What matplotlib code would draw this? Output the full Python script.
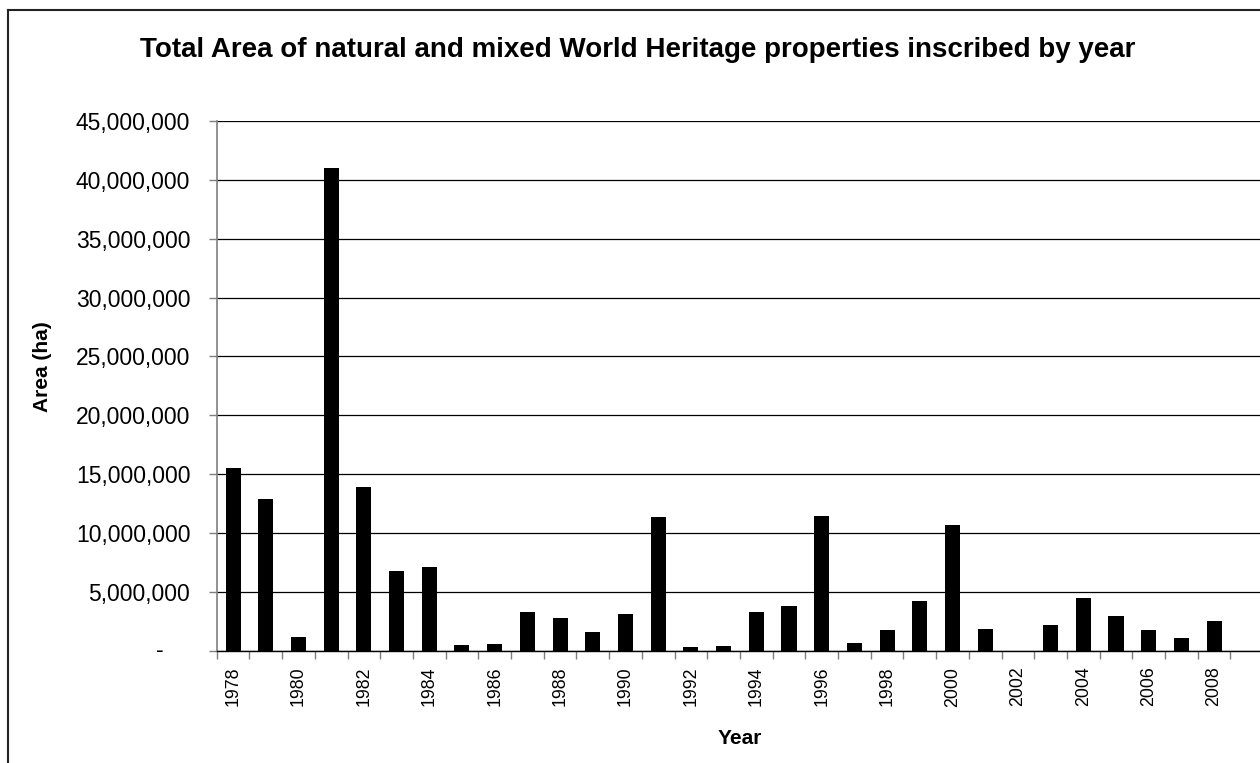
"""Total area of natural and mixed World Heritage properties inscribed by year -> out.png"""

import matplotlib
matplotlib.use("Agg")
import matplotlib.pyplot as plt
from matplotlib.lines import Line2D
from matplotlib.ticker import FixedLocator, FuncFormatter, MultipleLocator

plt.rcParams["font.family"] = ["Liberation Sans", "DejaVu Sans"]

years = [1978, 1979, 1980, 1981, 1982, 1983, 1984, 1985, 1986, 1987, 1988,
         1989, 1990, 1991, 1992, 1993, 1994, 1995, 1996, 1997, 1998, 1999,
         2000, 2001, 2002, 2003, 2004, 2005, 2006, 2007, 2008]
area_ha = [15_500_000, 12_850_000, 1_160_000, 41_000_000, 13_930_000, 6_760_000,
           7_080_000, 480_000, 570_000, 3_260_000, 2_750_000, 1_560_000,
           3_140_000, 11_380_000, 280_000, 370_000, 3_260_000, 3_790_000,
           11_460_000, 680_000, 1_750_000, 4_190_000, 10_670_000, 1_840_000,
           0, 2_150_000, 4_500_000, 2_920_000, 1_750_000, 1_050_000, 2_550_000]
label_years = years[::2]
n_slots = len(years) + 1  # the sheet has one more (empty) category after 2008

title = "Total Area of natural and mixed World Heritage properties inscribed by year"


def main():
    fig = plt.figure(figsize=(12.6, 7.63), dpi=100)
    ax = fig.add_axes([0.172, 0.1472, 0.8305, 0.6942])

    x = list(range(len(years)))
    ax.bar(x, area_ha, width=0.46, color="black", edgecolor="black", linewidth=0, zorder=3)

    ax.set_xlim(-0.5, n_slots - 0.5)
    ax.set_ylim(0, 45_000_000)

    # y axis: Excel accounting style, "-" for zero
    ax.yaxis.set_major_locator(MultipleLocator(5_000_000))
    ax.yaxis.set_major_formatter(FuncFormatter(lambda v, p: "" if v == 0 else f"{v:,.0f}"))
    ax.tick_params(axis="y", which="major", direction="out", length=6, width=1,
                   color="#7f7f7f", pad=13, labelsize=16.5, labelcolor="black")
    ax.annotate("-", xy=(0, 0), xycoords=("axes fraction", "data"), xytext=(-38, 0),
                textcoords="offset points", ha="right", va="center", fontsize=16.5)
    ax.grid(axis="y", color="black", linewidth=0.9, zorder=1)
    ax.set_axisbelow(True)

    # x axis: tick marks between categories, labels every other year
    ax.xaxis.set_major_locator(FixedLocator([i - 0.5 for i in range(n_slots + 1)]))
    ax.xaxis.set_major_formatter(FuncFormatter(lambda v, p: ""))
    ax.xaxis.set_minor_locator(FixedLocator([years.index(y) for y in label_years]))
    ax.xaxis.set_minor_formatter(FuncFormatter(lambda v, p: str(years[int(round(v))])))
    ax.tick_params(axis="x", which="major", direction="out", length=6, width=1, color="#7f7f7f")
    ax.tick_params(axis="x", which="minor", length=0, pad=11.5, labelsize=12.8, labelrotation=90)

    for s in ("top", "right"):
        ax.spines[s].set_visible(False)
    ax.spines["left"].set_color("#7f7f7f")
    ax.spines["left"].set_linewidth(1.2)
    ax.spines["bottom"].set_color("black")
    ax.spines["bottom"].set_linewidth(1.0)
    ax.spines["bottom"].set_zorder(4)

    ax.set_xlabel("Year", fontsize=15, fontweight="bold", labelpad=16)
    fig.text(0.034, 0.519, "Area (ha)", rotation=90, ha="center", va="center",
             fontsize=15, fontweight="bold")
    fig.text(0.506, 0.934, title, ha="center", va="center", fontsize=20, fontweight="bold")

    # chart-area frame (cropped on the right and bottom)
    fx, fy = 8 / 1260, 1 - 10 / 763
    fig.add_artist(Line2D([fx, fx], [0, fy], transform=fig.transFigure, color="#222222", linewidth=1.5))
    fig.add_artist(Line2D([fx, 1], [fy, fy], transform=fig.transFigure, color="#222222", linewidth=1.5))

    fig.savefig("out.png", dpi=100)
    plt.close(fig)


if __name__ == "__main__":
    main()
